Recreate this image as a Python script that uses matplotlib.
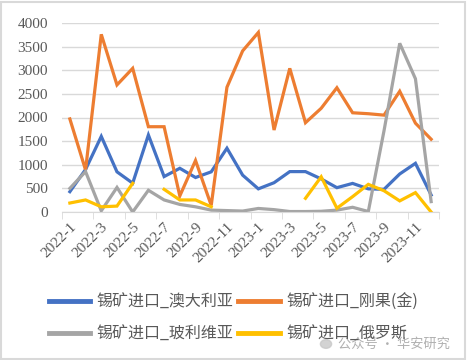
import numpy as np
import matplotlib
matplotlib.use('Agg')
import matplotlib.pyplot as plt
from matplotlib.patches import Rectangle, Circle

plt.rcParams['font.family'] = ['Liberation Serif', 'Noto Sans CJK SC', 'DejaVu Sans']

months = ['2022-%d' % m for m in range(1, 13)] + ['2023-%d' % m for m in range(1, 13)]
nan = np.nan

australia = [430, 900, 1600, 850, 610, 1630, 750, 925, 730, 850, 1350, 780,
             490, 620, 855, 855, 700, 515, 605, 490, 480, 805, 1030, 360]
congo = [1970, 890, 3760, 2690, 3040, 1805, 1805, 340, 1090, 140, 2640, 3410,
         3800, 1735, 3040, 1890, 2195, 2630, 2100, 2080, 2050, 2555, 1880, 1540]
bolivia = [500, 855, 25, 520, 0, 460, 255, 160, 110, 40, 30, 20,
           75, 50, 10, 10, 15, 40, 100, 10, 1720, 3570, 2820, 220]
russia = [190, 255, 110, 125, 607, nan, 480, 255, 255, 110, nan, nan,
          nan, nan, nan, 290, 745, 80, 325, 585, 450, 235, 410, 0]

names = ['锡矿进口_澳大利亚', '锡矿进口_刚果(金)', '锡矿进口_玻利维亚', '锡矿进口_俄罗斯']
colors = ['#4472C4', '#ED7D31', '#A5A5A5', '#FFC000']

fig = plt.figure(figsize=(4.67, 3.6), dpi=100)
ax = fig.add_axes([62/467, 1-212/360, (439-62)/467, (212-23)/360])

x = np.arange(len(months))
lines = []
for vals, name, c in zip([australia, congo, bolivia, russia], names, colors):
    l, = ax.plot(x, vals, color=c, lw=2.3, label=name, solid_joinstyle='miter')
    lines.append(l)

ax.set_xlim(-0.5, len(months) - 0.5)
ax.set_ylim(0, 4000)
ax.set_yticks(np.arange(0, 4001, 500))
ax.yaxis.grid(True, color='#d9d9d9', lw=1)
ax.set_axisbelow(True)
for s in ['top', 'right', 'left']:
    ax.spines[s].set_visible(False)
ax.spines['bottom'].set_color('#d9d9d9')
ax.tick_params(axis='y', length=0, pad=10, labelsize=11, labelcolor='#595959')

ax.set_xticks(x[::2])
ax.set_xticklabels(months[::2], rotation=45, ha='right', rotation_mode='anchor')
ax.set_xticks(np.arange(-0.5, len(months), 2), minor=True)
ax.tick_params(axis='x', which='major', length=0, pad=6, labelsize=11, labelcolor='#595959')
ax.tick_params(axis='x', which='minor', length=5, color='#d9d9d9')

order = [0, 2, 1, 3]
leg = fig.legend([lines[i] for i in order], [names[i] for i in order], ncol=2,
                 loc='center', bbox_to_anchor=(0.5, 1-318/360), frameon=False,
                 prop={'family': ['Noto Sans CJK SC'], 'size': 11.5},
                 handlelength=2.6, handletextpad=0.4, columnspacing=0.3, labelspacing=0.95)
for t in leg.get_texts():
    t.set_color('#595959')
for h in leg.get_lines():
    h.set_linewidth(3.5)

# watermark
fig.patches.append(Circle((326/467, 1-344/360), 0.012, transform=fig.transFigure,
                          color='#c8c8c8', alpha=0.8))
fig.text(338/467, 1-344/360, '公众号 · 华安研究', fontsize=9.5, color='#b0b0b0',
         va='center', family=['Noto Sans CJK SC'])

fig.patches.append(Rectangle((0.002, 0.003), 0.994, 0.992, transform=fig.transFigure,
                             fill=False, edgecolor='#d9d9d9', lw=1.5))

fig.savefig('out.png', dpi=100)
